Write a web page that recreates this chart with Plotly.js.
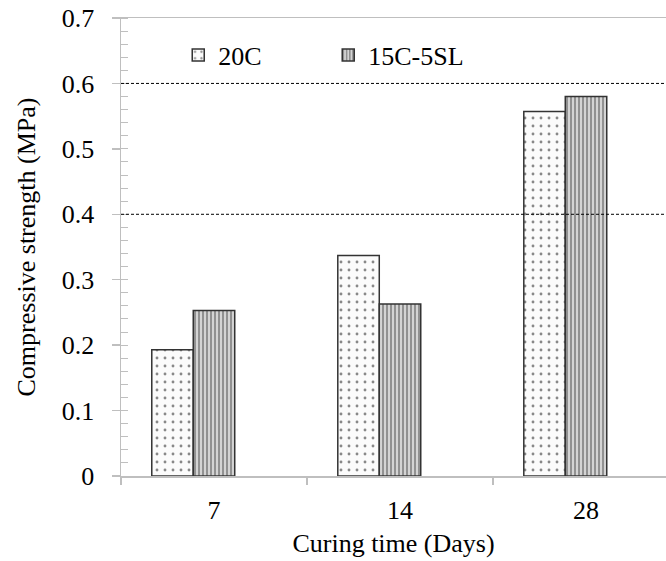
<!DOCTYPE html>
<html>
<head>
<meta charset="utf-8">
<script src="https://cdn.plot.ly/plotly-3.0.1.min.js"></script>
<style>html,body{margin:0;padding:0;background:#fff;}#chart{width:666px;height:561px;}</style>
</head>
<body>
<div id="chart"></div>
<script>
// Data
var categories = ['7', '14', '28'];
var series20C = [0.193, 0.337, 0.557];
var series15C5SL = [0.253, 0.263, 0.580];
var seriesNames = ['20C', '15C-5SL'];
var refLines = [0.4, 0.6];
var yTickVals = [0, 0.1, 0.2, 0.3, 0.4, 0.5, 0.6, 0.7];
var yTickText = ['0', '0.1', '0.2', '0.3', '0.4', '0.5', '0.6', '0.7'];

function mkFont() { return {family: '"Liberation Serif", "Times New Roman", Times, serif', size: 26, color: '#000'}; }
var barW = 0.223;

var traces = [
  {
    type: 'bar', name: seriesNames[0], x: categories, y: series20C,
    width: barW, offset: -0.3345,
    marker: {color: '#ffffff', line: {color: '#333', width: 1.5},
      pattern: {shape: '.', fgcolor: '#888', bgcolor: '#fbfbfb', size: 8, solidity: 0.1}}
  },
  {
    type: 'bar', name: seriesNames[1], x: categories, y: series15C5SL,
    width: barW, offset: -0.1115,
    marker: {color: '#cccccc', line: {color: '#333', width: 1.5},
      pattern: {shape: '|', fgcolor: '#8a8a8a', bgcolor: '#d4d4d4', size: 4, solidity: 0.45}}
  }
];

var shapes = refLines.map(function (v) {
  return {type: 'line', xref: 'paper', x0: 0, x1: 1, yref: 'y', y0: v, y1: v,
    line: {color: '#000', width: 1, dash: '3px,2px'}, layer: 'above'};
});

var layout = {
  width: 666, height: 561,
  margin: {l: 121, r: 0, t: 18, b: 84.5},
  paper_bgcolor: '#fff', plot_bgcolor: '#fff',
  font: mkFont(),
  showlegend: true,
  legend: {orientation: 'h', x: 0.105, xanchor: 'left', y: 0.919, yanchor: 'middle',
    font: mkFont(), bgcolor: 'rgba(0,0,0,0)', entrywidth: 105, entrywidthmode: 'pixels'},
  xaxis: {
    type: 'category', range: [-0.5, 2.43],
    showline: true, linecolor: '#bfbfbf', linewidth: 1.5, mirror: true,
    ticks: 'outside', tickson: 'boundaries', ticklen: 7, tickcolor: '#bfbfbf', tickwidth: 1.5,
    showgrid: false, zeroline: false, tickfont: mkFont(), ticklabelstandoff: 10,
    title: {text: 'Curing time (Days)', font: mkFont(), standoff: 10}
  },
  yaxis: {
    range: [0, 0.7], tickvals: yTickVals, ticktext: yTickText,
    showline: true, linecolor: '#bfbfbf', linewidth: 1.5,
    ticks: 'outside', ticklen: 8, tickcolor: '#bfbfbf', tickwidth: 1.5,
    minor: {dtick: 0.02, ticks: 'inside', ticklen: 7, tickcolor: '#bfbfbf', tickwidth: 1, showgrid: false},
    showgrid: false, zeroline: false, tickfont: mkFont(), ticklabelstandoff: 12,
    title: {text: 'Compressive strength (MPa)', font: mkFont(), standoff: 18}
  },
  shapes: shapes
};

Plotly.newPlot('chart', traces, layout, {displayModeBar: false, staticPlot: true});
</script>
</body>
</html>
